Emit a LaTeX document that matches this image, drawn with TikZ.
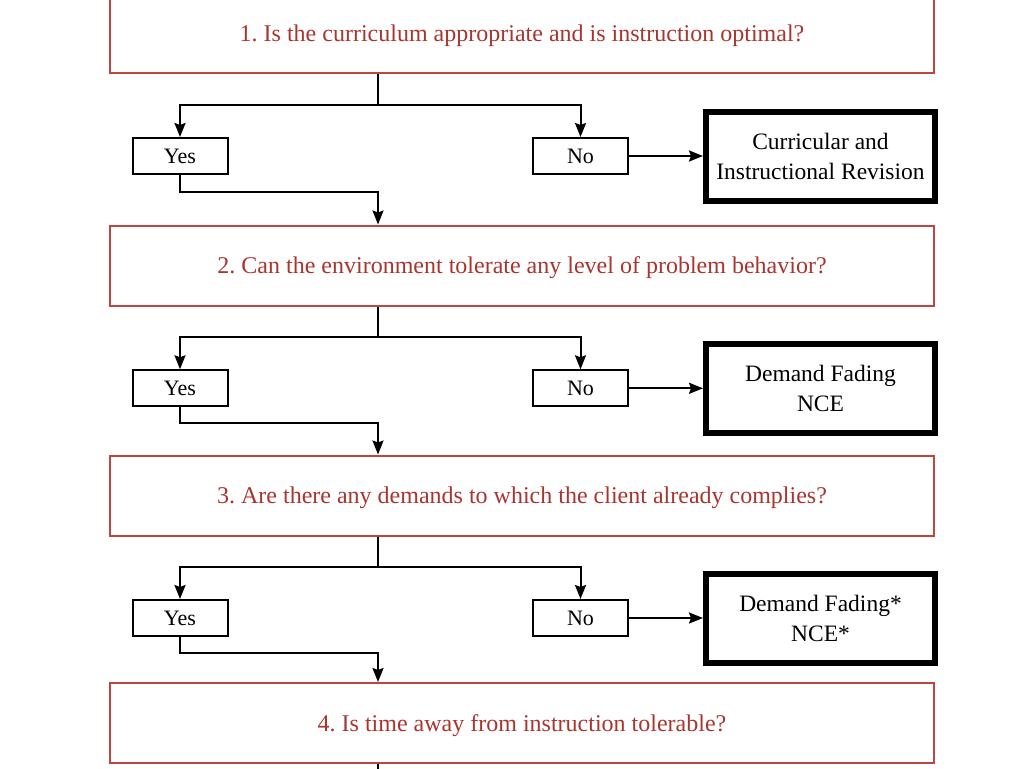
\documentclass[tikz,border=0pt]{standalone}
\usepackage{fontspec}
\setmainfont{Liberation Serif}
\usetikzlibrary{arrows.meta}
\definecolor{qred}{RGB}{170,52,46}
\definecolor{qline}{RGB}{190,70,62}
\frenchspacing

\begin{document}
\begin{tikzpicture}[x=1pt,y=-1pt,
    qbox/.style={draw=qline,line width=2pt,minimum width=824pt,minimum height=80pt,
      text depth=0pt,text=qred,font=\fontsize{24}{28}\selectfont},
    ansbox/.style={draw,line width=2pt,minimum width=95pt,minimum height=36pt,
      font=\fontsize{22}{26}\selectfont},
    resultbox/.style={draw,line width=6pt,minimum width=229pt,minimum height=89pt,
      align=center,font=\fontsize{23.5}{30}\selectfont},
    flow/.style={line width=2pt},
    arr/.style={flow,-{Stealth[length=14pt,width=11pt,inset=2pt]}}]
    \useasboundingbox (0,0) rectangle (1024,768);

    % questions
    \node[qbox] (q1) at (522,33) {1. Is the curriculum appropriate and is instruction optimal?};
    \node[qbox] (q2) at (522,265.5) {2. Can the environment tolerate any level of problem behavior?};
    \node[qbox] (q3) at (522,495.5) {3. Are there any demands to which the client already complies?};
    \node[qbox] (q4) at (522,723) {4. Is time away from instruction tolerable?};

    % answers, row 1
    \node[ansbox] (yes1) at (180,156) {Yes};
    \node[ansbox] (no1) at (580.5,156) {No};
    \node[resultbox] (res1) at (820.5,156) {Curricular and\\Instructional Revision};
    \coordinate (fork1) at (378,105);
    \coordinate (join1) at (378,191.5);
    \draw[flow] (fork1 |- q1.south) -- (fork1);
    \draw[arr] (fork1) -| (yes1.north);
    \draw[arr] (fork1) -| (no1.north);
    \draw[arr] (no1) -- (res1);
    \draw[arr] (yes1.south) |- (join1) -- (join1 |- q2.north);

    % answers, row 2
    \node[ansbox] (yes2) at (180,388.3) {Yes};
    \node[ansbox] (no2) at (580.5,388.3) {No};
    \node[resultbox] (res2) at (820.5,388.3) {Demand Fading\\NCE};
    \coordinate (fork2) at (378,336.7);
    \coordinate (join2) at (378,423.3);
    \draw[flow] (fork2 |- q2.south) -- (fork2);
    \draw[arr] (fork2) -| (yes2.north);
    \draw[arr] (fork2) -| (no2.north);
    \draw[arr] (no2) -- (res2);
    \draw[arr] (yes2.south) |- (join2) -- (join2 |- q3.north);

    % answers, row 3
    \node[ansbox] (yes3) at (180,618) {Yes};
    \node[ansbox] (no3) at (580.5,618) {No};
    \node[resultbox] (res3) at (820.5,618) {Demand Fading*\\NCE*};
    \coordinate (fork3) at (378,567);
    \coordinate (join3) at (378,652.7);
    \draw[flow] (fork3 |- q3.south) -- (fork3);
    \draw[arr] (fork3) -| (yes3.north);
    \draw[arr] (fork3) -| (no3.north);
    \draw[arr] (no3) -- (res3);
    \draw[arr] (yes3.south) |- (join3) -- (join3 |- q4.north);

    % on to the next step
    \coordinate (tail) at (378,775);
    \draw[flow] (tail |- q4.south) -- (tail);
\end{tikzpicture}
\end{document}
